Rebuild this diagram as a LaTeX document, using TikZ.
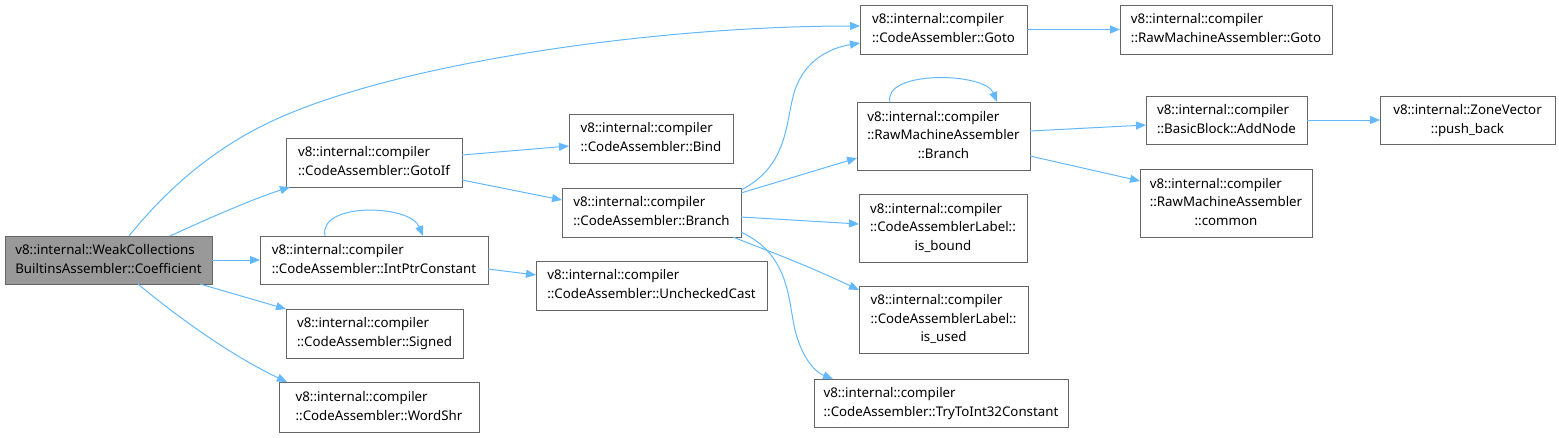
\documentclass[tikz,border=0pt]{standalone}
\usepackage{fontspec}
\setmainfont{Noto Sans}
\usetikzlibrary{arrows.meta,calc}
\definecolor{edgeblue}{HTML}{63B8FF}
\definecolor{boxline}{HTML}{666666}
\definecolor{boxfill}{HTML}{999999}
\newcommand{\lbltwo}[2]{\begin{tabular}{@{}l@{}}#1\\\multicolumn{1}{@{}c@{}}{#2}\end{tabular}}
\newcommand{\lblthree}[3]{\begin{tabular}{@{}l@{}}#1\\#2\\\multicolumn{1}{@{}c@{}}{#3}\end{tabular}}
\tikzset{
  fn/.style={draw=boxline, line width=1pt, fill=white, inner sep=0pt, outer sep=0pt,
    font=\fontsize{13.3}{18.7}\selectfont, text=black},
  cur/.style={fn, fill=boxfill},
  call/.style={draw=edgeblue, line width=1pt, -{Triangle[length=10pt,width=8pt]}},
}
\begin{document}
\begin{tikzpicture}[x=1pt,y=-1pt]
\useasboundingbox (0,0) rectangle (1559,437);
\renewcommand{\arraystretch}{1}
% nodes
\node[cur, minimum width=207, minimum height=48] (coef) at (108.5,260) {\lbltwo{v8::internal::WeakCollections}{BuiltinsAssembler::Coefficient}};
\node[fn, minimum width=176, minimum height=49] (gotoif) at (374,162.5) {\lbltwo{v8::internal::compiler}{::CodeAssembler::GotoIf}};
\node[fn, minimum width=228, minimum height=48] (intptr) at (374,260) {\lbltwo{v8::internal::compiler}{::CodeAssembler::IntPtrConstant}};
\node[fn, minimum width=177, minimum height=49] (signed) at (374.5,333.5) {\lbltwo{v8::internal::compiler}{::CodeAssembler::Signed}};
\node[fn, minimum width=200, minimum height=50] (wordshr) at (379,407) {\lbltwo{v8::internal::compiler}{::CodeAssembler::WordShr}};
\node[fn, minimum width=164, minimum height=49] (bind) at (651,138.5) {\lbltwo{v8::internal::compiler}{::CodeAssembler::Bind}};
\node[fn, minimum width=179, minimum height=49] (cabranch) at (651.5,212.5) {\lbltwo{v8::internal::compiler}{::CodeAssembler::Branch}};
\node[fn, minimum width=231, minimum height=49] (unchecked) at (651.5,285.5) {\lbltwo{v8::internal::compiler}{::CodeAssembler::UncheckedCast}};
\node[fn, minimum width=167, minimum height=49] (cagoto) at (943.5,29.5) {\lbltwo{v8::internal::compiler}{::CodeAssembler::Goto}};
\node[fn, minimum width=173, minimum height=68] (rmabranch) at (943.5,136) {\lblthree{v8::internal::compiler}{::RawMachineAssembler}{::Branch}};
\node[fn, minimum width=168, minimum height=68] (isbound) at (943,228) {\lblthree{v8::internal::compiler}{::CodeAssemblerLabel::}{is\_bound}};
\node[fn, minimum width=169, minimum height=67] (isused) at (943.5,319.5) {\lblthree{v8::internal::compiler}{::CodeAssemblerLabel::}{is\_used}};
\node[fn, minimum width=254, minimum height=48] (tryto) at (941,403) {\lbltwo{v8::internal::compiler}{::CodeAssembler::TryToInt32Constant}};
\node[fn, minimum width=212, minimum height=49] (rmagoto) at (1226,29.5) {\lbltwo{v8::internal::compiler}{::RawMachineAssembler::Goto}};
\node[fn, minimum width=161, minimum height=48] (addnode) at (1226.5,120) {\lbltwo{v8::internal::compiler}{::BasicBlock::AddNode}};
\node[fn, minimum width=172, minimum height=68] (common) at (1226,203) {\lblthree{v8::internal::compiler}{::RawMachineAssembler}{::common}};
\node[fn, minimum width=175, minimum height=48] (pushback) at (1467.5,120) {\lbltwo{v8::internal::ZoneVector}{::push\_back}};
% edges
\draw[call] ([xshift=20.5pt]coef.north) .. controls (170,185) and (215,150) .. (260,127) .. controls (380,65) and (650,26) .. ([yshift=3.5pt]cagoto.west);
\draw[call] ([xshift=61.5pt]coef.north) .. controls (205,220) and (250,200) .. ([xshift=4pt]gotoif.south west);
\draw[call] (coef.east) -- (intptr.west);
\draw[call] ([xshift=-12pt]coef.south east) -- (signed.north west);
\draw[call] ([xshift=29.5pt]coef.south) .. controls (175,315) and (230,355) .. ([xshift=8pt]wordshr.north west);
\draw[call] ([yshift=7.5pt]gotoif.east) -- ([yshift=-7.5pt]bind.west);
\draw[call] ([yshift=-17.5pt]gotoif.east) -- ([yshift=12.5pt]cabranch.west);
\draw[call] ([xshift=-49pt]intptr.north) .. controls (318,202) and (410,204) .. ([xshift=49pt]intptr.north);
\draw[call] ([yshift=-9pt]intptr.east) -- ([yshift=10.5pt]unchecked.west);
\draw[call] ([yshift=-2pt]cabranch.north east) .. controls (790,165) and (785,120) .. (795,90) .. controls (805,60) and (830,48) .. ([yshift=-13.5pt]cagoto.west);
\draw[call] ([yshift=19.5pt]cabranch.east) -- ([yshift=-22pt]rmabranch.west);
\draw[call] ([yshift=-4.5pt]cabranch.east) -- ([yshift=4pt]isbound.west);
\draw[call] ([xshift=-8pt]cabranch.south east) .. controls (760,248) and (800,262) .. ([yshift=29.5pt]isused.west);
\draw[call] ([yshift=-19.5pt]cabranch.east) .. controls (790,255) and (788,300) .. (795,330) .. controls (802,358) and (815,372) .. ([xshift=19pt]tryto.north west);
\draw[call] (cagoto.east) -- (rmagoto.west);
\draw[call] ([xshift=-53.5pt]rmabranch.north) .. controls (883,70) and (985,72) .. ([xshift=53.5pt]rmabranch.north);
\draw[call] ([yshift=5pt]rmabranch.east) -- ([yshift=-5pt]addnode.west);
\draw[call] ([yshift=-20pt]rmabranch.east) -- ([yshift=22pt]common.west);
\draw[call] (addnode.east) -- (pushback.west);
\end{tikzpicture}
\end{document}
